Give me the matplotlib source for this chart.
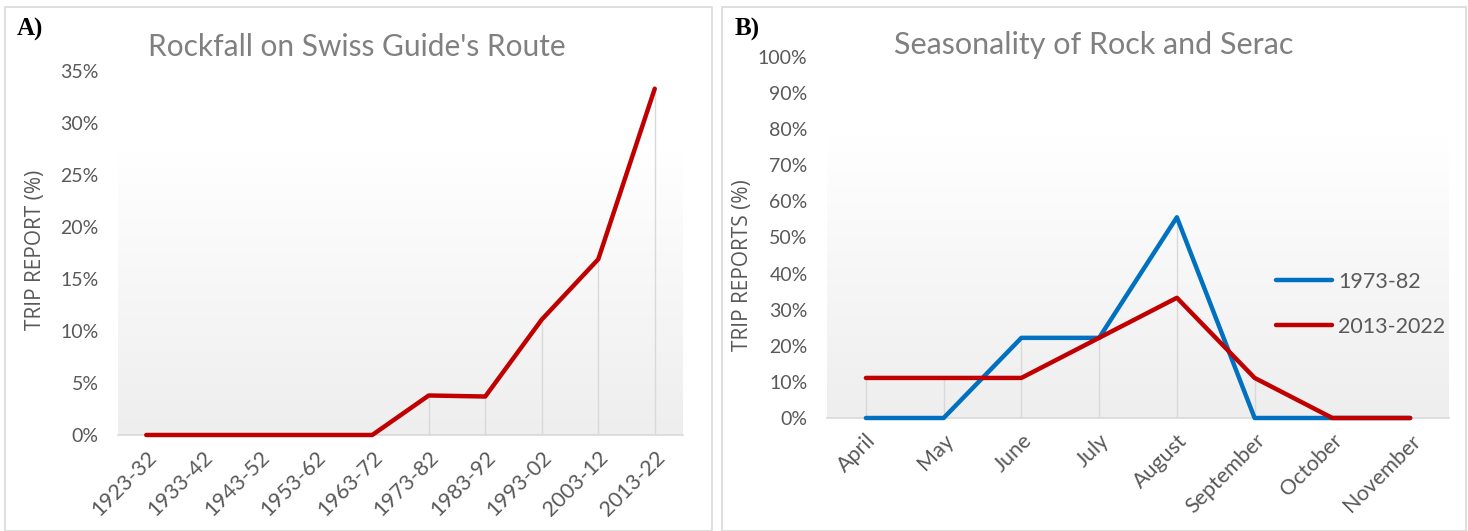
import matplotlib.pyplot as plt
import numpy as np
from matplotlib.patches import Rectangle
from matplotlib.colors import LinearSegmentedColormap

# Panel A data: share of trip reports mentioning rockfall per decade (%)
decades = ['1923-32', '1933-42', '1943-52', '1953-62', '1963-72',
           '1973-82', '1983-92', '1993-02', '2003-12', '2013-22']
rockfall = [0, 0, 0, 0, 0, 3.8, 3.7, 11.1, 16.9, 33.3]

# Panel B data: seasonality of rock and serac reports (%)
months = ['April', 'May', 'June', 'July', 'August', 'September', 'October', 'November']
season_1973 = [0, 0, 22.2, 22.2, 55.6, 0, 0, 0]
season_2013 = [11.1, 11.1, 11.1, 22.2, 33.3, 11.1, 0, 0]

RED = '#C00000'
BLUE = '#0070C0'
GREY_TXT = '#595959'

plt.rcParams['font.family'] = ['Lato', 'DejaVu Sans']

fig = plt.figure(figsize=(14.68, 5.31), dpi=100)

# panel frames
fig.patches.append(Rectangle((5 / 1468, 0), 707 / 1468, 1 - 7 / 531, transform=fig.transFigure,
                             fill=False, edgecolor='#d9d9d9', linewidth=1.2))
fig.patches.append(Rectangle((722 / 1468, 0), 744 / 1468, 1 - 7 / 531, transform=fig.transFigure,
                             fill=False, edgecolor='#d9d9d9', linewidth=1.2))

grad = LinearSegmentedColormap.from_list('g', ['#eeeeee', '#ffffff'])


def style_axes(ax, labels, ymax, step):
    # plot-area gradient (white at top, light grey at bottom)
    g = np.linspace(0, 1, 256).reshape(-1, 1)
    ax.imshow(g, cmap=grad, aspect='auto', origin='lower',
              extent=[0, 1, 0, 0.78], transform=ax.transAxes, zorder=0)
    ax.set_xlim(-0.5, len(labels) - 0.5)
    ax.set_ylim(0, ymax)
    ax.set_xticks(range(len(labels)))
    ax.set_xticklabels(labels, rotation=45, ha='right', rotation_mode='anchor', fontsize=15.5)
    ticks = np.arange(0, ymax + 0.1, step)
    ax.set_yticks(ticks)
    ax.set_yticklabels([f'{int(t)}%' for t in ticks], fontsize=14)
    ax.tick_params(length=0, labelcolor=GREY_TXT)
    ax.tick_params(axis='x', pad=9)
    ax.tick_params(axis='y', pad=14)
    for s in ['top', 'right', 'left']:
        ax.spines[s].set_visible(False)
    ax.spines['bottom'].set_color('#d9d9d9')
    ax.spines['bottom'].set_linewidth(1.2)
    ax.spines['bottom'].set_zorder(1)
    ax.patch.set_alpha(0)


# ---- Panel A ----
axA = fig.add_axes([118 / 1468, 96 / 531, 565 / 1468, 364 / 531])
style_axes(axA, decades, 35, 5)
xa = np.arange(len(decades))
axA.vlines(xa, 0, rockfall, color='#d9d9d9', linewidth=1, zorder=1)
axA.plot(xa, rockfall, color=RED, linewidth=3.2, solid_capstyle='round', zorder=3, clip_on=False)
axA.set_ylabel('TRIP REPORT (%)', fontsize=15, color=GREY_TXT, family=['Open Sans', 'DejaVu Sans'])
axA.yaxis.set_label_coords(-0.128, 0.508)
fig.text(357 / 1468, 1 - 47 / 531, "Rockfall on Swiss Guide's Route", ha='center', va='center',
         fontsize=21.5, color='#808080')
fig.text(17 / 1468, 1 - 29 / 531, 'A)', ha='left', va='center', fontsize=18, fontweight='bold',
         family=['Liberation Serif', 'DejaVu Serif'])

# ---- Panel B ----
axB = fig.add_axes([827 / 1468, 113 / 531, 622 / 1468, 361 / 531])
style_axes(axB, months, 100, 10)
xb = np.arange(len(months))
top = np.maximum(season_1973, season_2013)
axB.vlines(xb, 0, top, color='#d9d9d9', linewidth=1, zorder=1)
axB.plot(xb, season_1973, color=BLUE, linewidth=3.2, solid_capstyle='round', zorder=3,
         clip_on=False, label='1973-82')
axB.plot(xb, season_2013, color=RED, linewidth=3.2, solid_capstyle='round', zorder=4,
         clip_on=False, label='2013-2022')
axB.set_ylabel('TRIP REPORTS (%)', fontsize=15, color=GREY_TXT, family=['Open Sans', 'DejaVu Sans'])
axB.yaxis.set_label_coords(-0.119, 0.424)
leg = axB.legend(loc='center left', bbox_to_anchor=(0.69, 0.315), frameon=False, fontsize=15.5,
                 handlelength=2.6, handletextpad=0.3, labelspacing=1.15)
for t in leg.get_texts():
    t.set_color(GREY_TXT)
fig.text(1094 / 1468, 1 - 45 / 531, 'Seasonality of Rock and Serac', ha='center', va='center',
         fontsize=22, color='#808080')
fig.text(735 / 1468, 1 - 29 / 531, 'B)', ha='left', va='center', fontsize=18, fontweight='bold',
         family=['Liberation Serif', 'DejaVu Serif'])

fig.savefig('out.png', dpi=100, facecolor='white')
